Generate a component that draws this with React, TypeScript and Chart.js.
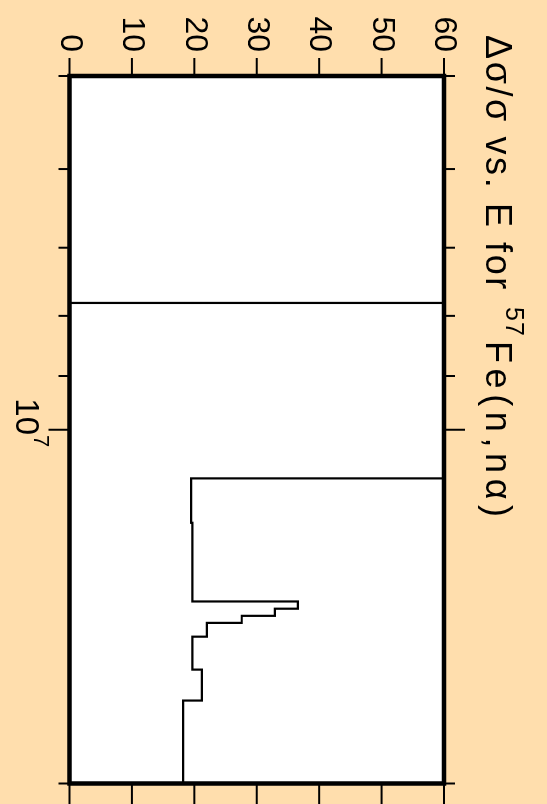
import React, { useEffect, useRef } from "react";
import { Chart, registerables } from "chart.js";

Chart.register(...registerables);

// ---- data ----
// Bin edges in neutron energy (eV) and Δσ/σ (%) holding from each edge to the next
const energyEdges = [5e6, 7.8e6, 1.1e7, 1.2e7, 1.4e7, 1.42e7, 1.44e7, 1.46e7, 1.5e7, 1.6e7, 1.7e7, 2e7];
const relUncertainty = [0, 100, 19.5, 19.7, 36.6, 32.9, 27.6, 22.0, 19.7, 21.2, 18.2, 18.2];

const yTickValues = [0, 10, 20, 30, 40, 50, 60];
const xMinorTicks = [5e6, 6e6, 7e6, 8e6, 9e6, 2e7];
const xMajorTicks = [1e7];
const xMajorLabelBase = ["10"];
const xMajorLabelExp = ["7"];

const titleMain = "Δσ/σ vs. E for";
const titleSup = "57";
const titleRest = "Fe(n,nα)";

const BG = "#FFDEAD";
const FONT = '"Liberation Sans", Arial, Helvetica, sans-serif';

const W = 804; // unrotated width
const H = 547; // unrotated height

const decorPlugin = {
  id: "decor",
  beforeDraw(chart: any) {
    const { ctx, chartArea: a } = chart;
    ctx.save();
    ctx.fillStyle = BG;
    ctx.fillRect(0, 0, chart.width, chart.height);
    ctx.fillStyle = "#ffffff";
    ctx.fillRect(a.left, a.top, a.right - a.left, a.bottom - a.top);
    ctx.restore();
  },
  afterDatasetsDraw(chart: any) {
    const { ctx, chartArea: a, scales } = chart;
    const x = scales.x;
    const y = scales.y;
    const line = (x1: number, y1: number, x2: number, y2: number) => {
      ctx.beginPath();
      ctx.moveTo(x1, y1);
      ctx.lineTo(x2, y2);
      ctx.stroke();
    };
    ctx.save();
    ctx.strokeStyle = "#000";
    ctx.lineWidth = 2;
    for (const v of yTickValues) {
      const py = y.getPixelForValue(v);
      line(a.left - 18, py, a.left, py);
      line(a.right, py, a.right + 22, py);
    }
    for (const v of xMinorTicks) {
      const px = x.getPixelForValue(v);
      line(px, a.bottom, px, a.bottom + 11);
      line(px, a.top - 11, px, a.top);
    }
    for (const v of xMajorTicks) {
      const px = x.getPixelForValue(v);
      line(px, a.bottom, px, a.bottom + 21);
      line(px, a.top - 21, px, a.top);
    }
    // frame
    ctx.lineWidth = 4.5;
    ctx.strokeRect(a.left, a.top, a.right - a.left, a.bottom - a.top);

    // x major tick labels (10^7)
    ctx.fillStyle = "#000";
    ctx.textBaseline = "alphabetic";
    ctx.textAlign = "left";
    xMajorTicks.forEach((v, i) => {
      const px = x.getPixelForValue(v);
      ctx.font = `33px ${FONT}`;
      const bw = ctx.measureText(xMajorLabelBase[i]).width;
      ctx.font = `22px ${FONT}`;
      const ew = ctx.measureText(xMajorLabelExp[i]).width;
      const start = px - (bw + ew) / 2 - 7;
      ctx.font = `33px ${FONT}`;
      ctx.fillText(xMajorLabelBase[i], start, a.bottom + 53);
      ctx.font = `22px ${FONT}`;
      ctx.fillText(xMajorLabelExp[i], start + bw, a.bottom + 35);
    });

    // title
    const tyBase = 61;
    const c: any = ctx;
    c.letterSpacing = "2.6px";
    ctx.font = `36px ${FONT}`;
    ctx.fillText(titleMain, 35, tyBase);
    c.letterSpacing = "1px";
    ctx.font = `25px ${FONT}`;
    ctx.fillText(titleSup, 307, tyBase - 20);
    c.letterSpacing = "5.6px";
    ctx.font = `36px ${FONT}`;
    ctx.fillText(titleRest, 341, tyBase);
    c.letterSpacing = "0px";
    ctx.restore();
  },
};

export default function App() {
  const ref = useRef<HTMLCanvasElement | null>(null);

  useEffect(() => {
    if (!ref.current) return;
    const data = energyEdges.map((e, i) => ({ x: e, y: relUncertainty[i] }));
    const chart = new Chart(ref.current, {
      type: "line",
      data: {
        datasets: [
          {
            data,
            stepped: "before",
            borderColor: "#000",
            borderWidth: 2.2,
            pointRadius: 0,
            fill: false,
          },
        ],
      },
      options: {
        animation: false,
        responsive: false,
        devicePixelRatio: 1,
        layout: { padding: { left: 0, right: 20.5, top: 103, bottom: 0 } },
        plugins: {
          legend: { display: false },
          title: { display: false },
          tooltip: { enabled: false },
        },
        scales: {
          x: {
            type: "logarithmic",
            min: 5e6,
            max: 2e7,
            position: "bottom",
            grid: { display: false, drawTicks: false },
            border: { display: false },
            ticks: { display: false },
            afterFit: (s: any) => {
              s.height = 69.5;
            },
          },
          y: {
            type: "linear",
            min: 0,
            max: 60,
            position: "left",
            grid: { display: false, drawTicks: false },
            border: { display: false },
            ticks: {
              stepSize: 10,
              color: "#000",
              padding: 24,
              font: { family: FONT, size: 32 },
            },
            afterFit: (s: any) => {
              s.width = 76;
            },
          },
        },
      },
      plugins: [decorPlugin],
    });
    return () => chart.destroy();
  }, []);

  return (
    <div
      style={{
        position: "fixed",
        left: 0,
        top: 0,
        width: W,
        height: H,
        background: BG,
        transformOrigin: "0 0",
        transform: `translateX(${H}px) rotate(90deg)`,
      }}
    >
      <canvas ref={ref} width={W} height={H} style={{ display: "block", width: W, height: H }} />
    </div>
  );
}
